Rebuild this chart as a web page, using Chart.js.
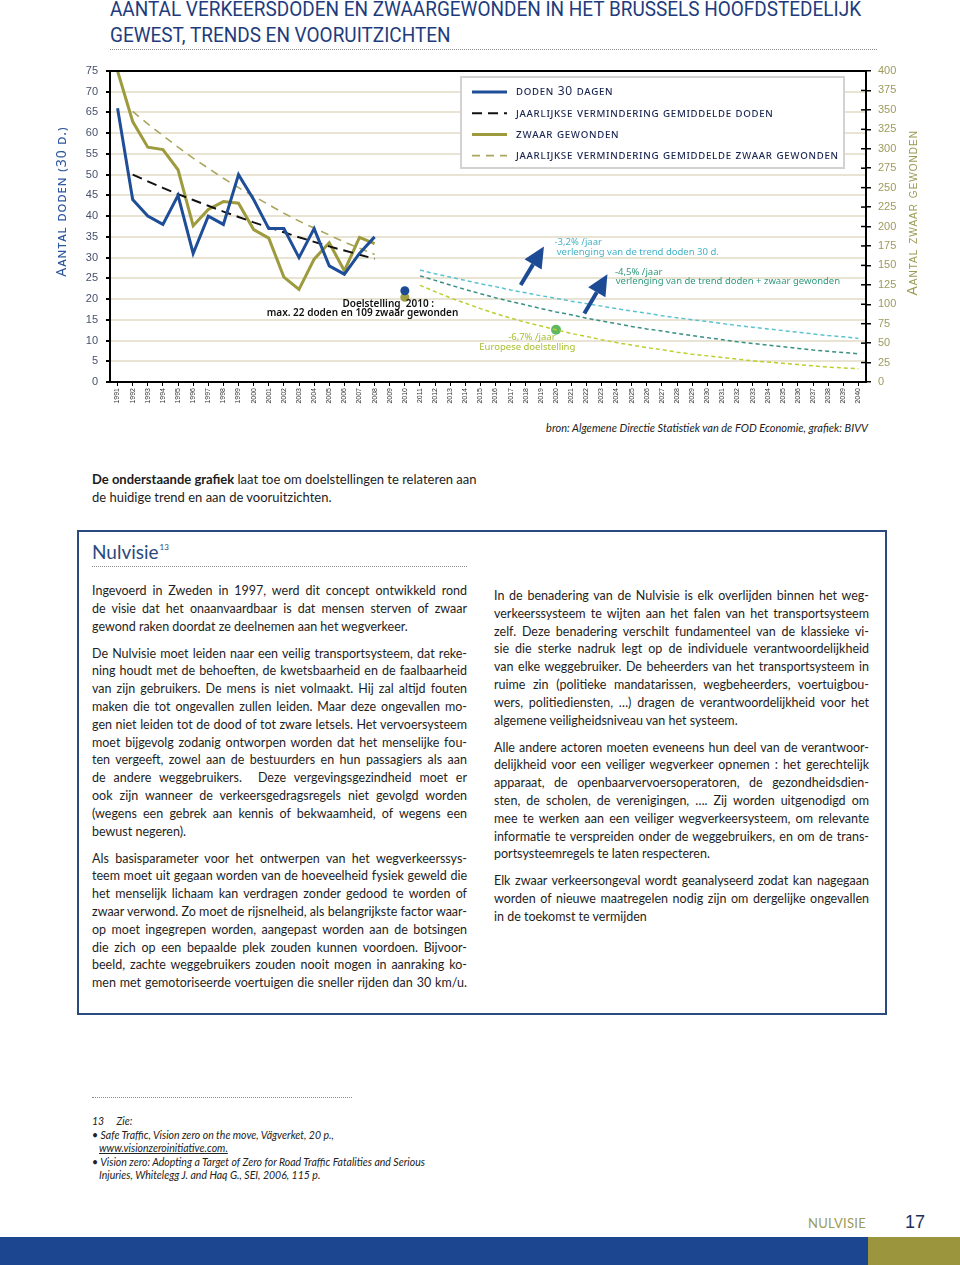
<!DOCTYPE html>
<html>
<head>
<meta charset="utf-8">
<script src="https://cdn.jsdelivr.net/npm/chart.js@4.4.0/dist/chart.umd.min.js"></script>
<style>
  body { margin: 0; width: 960px; height: 1265px; position: relative; background: #fff; overflow: hidden; font-family: Lato, "Noto Sans", sans-serif; color: #1c1c1c; }
  .title { position: absolute; left: 110px; top: -3px; font-family: "Liberation Sans Narrow", "Roboto", sans-serif; font-size: 20px; line-height: 25.5px; color: #1e3c7c; white-space: nowrap; transform: scaleX(0.948); transform-origin: 0 0; }
  .dots { position: absolute; height: 0; border-top: 1.5px dotted #8a8a8a; }
  #chartBox { position: absolute; left: 0; top: 55px; width: 960px; height: 365px; }
  .src { position: absolute; right: 92px; top: 421px; font-style: italic; font-size: 11px; color: #222; }
  .intro { position: absolute; left: 92px; top: 471px; font-size: 13px; line-height: 17.5px; }
  .box { position: absolute; left: 77px; top: 530px; width: 806px; height: 481px; border: 2px solid #2a4a80; }
  .head { position: absolute; left: 92px; top: 540px; font-size: 19px; color: #2b4a7c; }
  .head sup { font-size: 8px; vertical-align: 9px; margin-left: 1px; }
  .col { position: absolute; width: 375px; font-size: 12.5px; line-height: 17.8px; color: #1e1e1e; }
  .col p { margin: 0 0 9.2px 0; }
  .col span { display: block; text-align: justify; text-align-last: justify; }
  .col span.l { text-align-last: left; }
  .fn { position: absolute; left: 92px; top: 1115px; font-style: italic; font-size: 10.5px; line-height: 13.5px; color: #222; }
  .fn .in { padding-left: 7px; }
  .foot1 { position: absolute; left: 808px; top: 1215px; font-size: 13px; color: #9a9a5a; letter-spacing: 0.3px; }
  .foot2 { position: absolute; left: 905px; top: 1212px; font-size: 18px; color: #1e2f5a; font-family: "Liberation Sans", sans-serif; }
  .bar1 { position: absolute; left: 0; top: 1237px; width: 868px; height: 28px; background: #1d4690; }
  .bar2 { position: absolute; left: 868px; top: 1237px; width: 92px; height: 28px; background: #9b963e; }
</style>
</head>
<body>
<div class="title">AANTAL VERKEERSDODEN EN ZWAARGEWONDEN IN HET BRUSSELS HOOFDSTEDELIJK<br>GEWEST, TRENDS EN VOORUITZICHTEN</div>
<div class="dots" style="left:110px; top:49px; width:767px;"></div>

<div id="chartBox"><canvas id="trendChart"></canvas></div>

<div class="src">bron: Algemene Directie Statistiek van de FOD Economie, grafiek: BIVV</div>

<div class="intro"><b>De onderstaande grafiek</b> laat toe om doelstellingen te relateren aan<br>de huidige trend en aan de vooruitzichten.</div>

<div class="box"></div>
<div class="head">Nulvisie<sup>13</sup></div>
<div class="dots" style="left:92px; top:566px; width:375px;"></div>

<div class="col" style="left:92px; top:582px;">
  <p>
    <span>Ingevoerd in Zweden in 1997, werd dit concept ontwikkeld rond</span>
    <span>de visie dat het onaanvaardbaar is dat mensen sterven of zwaar</span>
    <span class="l">gewond raken doordat ze deelnemen aan het wegverkeer.</span>
  </p>
  <p>
    <span>De Nulvisie moet leiden naar een veilig transportsysteem, dat reke-</span>
    <span>ning houdt met de behoeften, de kwetsbaarheid en de faalbaarheid</span>
    <span>van zijn gebruikers. De mens is niet volmaakt. Hij zal altijd fouten</span>
    <span>maken die tot ongevallen zullen leiden. Maar deze ongevallen mo-</span>
    <span>gen niet leiden tot de dood of tot zware letsels. Het vervoersysteem</span>
    <span>moet bijgevolg zodanig ontworpen worden dat het menselijke fou-</span>
    <span>ten vergeeft, zowel aan de bestuurders en hun passagiers als aan</span>
    <span>de andere weggebruikers.&nbsp; Deze vergevingsgezindheid moet er</span>
    <span>ook zijn wanneer de verkeersgedragsregels niet gevolgd worden</span>
    <span>(wegens een gebrek aan kennis of bekwaamheid, of wegens een</span>
    <span class="l">bewust negeren).</span>
  </p>
  <p>
    <span>Als basisparameter voor het ontwerpen van het wegverkeerssys-</span>
    <span>teem moet uit gegaan worden van de hoeveelheid fysiek geweld die</span>
    <span>het menselijk lichaam kan verdragen zonder gedood te worden of</span>
    <span>zwaar verwond. Zo moet de rijsnelheid, als belangrijkste factor waar-</span>
    <span>op moet ingegrepen worden, aangepast worden aan de botsingen</span>
    <span>die zich op een bepaalde plek zouden kunnen voordoen. Bijvoor-</span>
    <span>beeld, zachte weggebruikers zouden nooit mogen in aanraking ko-</span>
    <span>men met gemotoriseerde voertuigen die sneller rijden dan 30 km/u.</span>
  </p>
</div>

<div class="col" style="left:494px; top:587px;">
  <p>
    <span>In de benadering van de Nulvisie is elk overlijden binnen het weg-</span>
    <span>verkeerssysteem te wijten aan het falen van het transportsysteem</span>
    <span>zelf. Deze benadering verschilt fundamenteel van de klassieke vi-</span>
    <span>sie die sterke nadruk legt op de individuele verantwoordelijkheid</span>
    <span>van elke weggebruiker. De beheerders van het transportsysteem in</span>
    <span>ruime zin (politieke mandatarissen, wegbeheerders, voertuigbou-</span>
    <span>wers, politiediensten, …) dragen de verantwoordelijkheid voor het</span>
    <span class="l">algemene veiligheidsniveau van het systeem.</span>
  </p>
  <p>
    <span>Alle andere actoren moeten eveneens hun deel van de verantwoor-</span>
    <span>delijkheid voor een veiliger wegverkeer opnemen : het gerechtelijk</span>
    <span>apparaat, de openbaarvervoersoperatoren, de gezondheidsdien-</span>
    <span>sten, de scholen, de verenigingen, …. Zij worden uitgenodigd om</span>
    <span>mee te werken aan een veiliger wegverkeersysteem, om relevante</span>
    <span>informatie te verspreiden onder de weggebruikers, en om de trans-</span>
    <span class="l">portsysteemregels te laten respecteren.</span>
  </p>
  <p>
    <span>Elk zwaar verkeersongeval wordt geanalyseerd zodat kan nagegaan</span>
    <span>worden of nieuwe maatregelen nodig zijn om dergelijke ongevallen</span>
    <span class="l">in de toekomst te vermijden</span>
  </p>
</div>

<div class="dots" style="left:92px; top:1097px; width:260px;"></div>
<div class="fn">
  13&nbsp;&nbsp;&nbsp;&nbsp; Zie:<br>
  • Safe Traffic, Vision zero on the move, Vägverket, 20 p.,<br>
  <span class="in"><u>www.visionzeroinitiative.com.</u></span><br>
  • Vision zero: Adopting a Target of Zero for Road Traffic Fatalities and Serious<br>
  <span class="in">Injuries, Whitelegg J. and Haq G., SEI, 2006, 115 p.</span>
</div>

<div class="foot1">NULVISIE</div>
<div class="foot2">17</div>
<div class="bar1"></div>
<div class="bar2"></div>

<script>
// Years on the x axis
const years = [
    '1991', '1992', '1993', '1994', '1995', '1996', '1997', '1998', '1999', '2000',
    '2001', '2002', '2003', '2004', '2005', '2006', '2007', '2008', '2009', '2010',
    '2011', '2012', '2013', '2014', '2015', '2016', '2017', '2018', '2019', '2020',
    '2021', '2022', '2023', '2024', '2025', '2026', '2027', '2028', '2029', '2030',
    '2031', '2032', '2033', '2034', '2035', '2036', '2037', '2038', '2039', '2040'
];

// Observed 1991-2008
const doden = [66, 44, 40, 38, 45, 31, 40, 38, 50, 44, 37, 37, 30, 37, 28, 26, 31, 35];
const zwaarGewonden = [400, 335, 302, 299, 273, 201, 222, 232, 230, 196, 185, 135, 119, 158, 179, 143, 186, 178];

// Average yearly reduction, 1992-2008
const trendDoden = [50, 48.4, 46.8, 45.3, 43.9, 42.5, 41.1, 39.8, 38.5, 37.3, 36.1, 34.9, 33.8, 32.7, 31.7, 30.7, 29.7];
const trendZwaar = [348, 332, 317, 302, 288, 275, 262, 250, 239, 228, 217, 207, 198, 189, 180, 172, 164];

// Projections 2011-2040 (left axis)
const proj32 = [27.0, 26.1, 25.3, 24.5, 23.7, 23.0, 22.2, 21.5, 20.8, 20.2, 19.5, 18.9, 18.3, 17.7, 17.1,
                16.6, 16.0, 15.5, 15.0, 14.6, 14.1, 13.6, 13.2, 12.8, 12.4, 12.0, 11.6, 11.2, 10.9, 10.5];
const proj45 = [25.6, 24.5, 23.4, 22.3, 21.3, 20.3, 19.4, 18.6, 17.7, 16.9, 16.2, 15.4, 14.7, 14.1, 13.4,
                12.8, 12.3, 11.7, 11.2, 10.7, 10.2, 9.7, 9.3, 8.9, 8.5, 8.1, 7.7, 7.4, 7.1, 6.8];
const proj67 = [23.3, 21.8, 20.3, 19.0, 17.7, 16.5, 15.4, 14.4, 13.5, 12.6, 11.7, 11.0, 10.2, 9.5, 8.9,
                8.3, 7.8, 7.2, 6.7, 6.3, 5.9, 5.5, 5.1, 4.8, 4.5, 4.2, 3.9, 3.6, 3.4, 3.2];

// Targets
const doelDoden2010 = 22;
const doelZwaar2010 = 109;
const euDoel2020 = 12.6;

// put a series on the full year axis
function place(startYear, values) {
    const out = years.map(() => null);
    const start = years.indexOf(String(startYear));
    values.forEach((v, i) => { out[start + i] = v; });
    return out;
}

const fontAxis = "'Liberation Sans', Arial, sans-serif";
const fontNote = "'Noto Sans', sans-serif";

function drawArrow(ctx, x0, y0, x1, y1) {
    const ang = Math.atan2(y1 - y0, x1 - x0);
    const headLen = 21, headW = 10;
    const bx = x1 - headLen * Math.cos(ang), by = y1 - headLen * Math.sin(ang);
    ctx.strokeStyle = '#1d4a94';
    ctx.fillStyle = '#1d4a94';
    ctx.lineWidth = 4;
    ctx.setLineDash([]);
    ctx.beginPath();
    ctx.moveTo(x0, y0);
    ctx.lineTo(bx, by);
    ctx.stroke();
    ctx.beginPath();
    ctx.moveTo(x1, y1);
    ctx.lineTo(bx + headW * Math.sin(ang), by - headW * Math.cos(ang));
    ctx.lineTo(bx - headW * Math.sin(ang), by + headW * Math.cos(ang));
    ctx.closePath();
    ctx.fill();
}

const overlay = {
    id: 'overlay',
    afterDatasetsDraw(chart) {
        const { ctx, chartArea: a, scales } = chart;
        const x = scales.x, y = scales.y, y2 = scales.y2;
        ctx.save();

        // frame top + inner ticks of the right axis
        ctx.strokeStyle = '#000';
        ctx.lineWidth = 2;
        ctx.beginPath();
        ctx.moveTo(a.left - 1, a.top);
        ctx.lineTo(a.right + 1, a.top);
        ctx.stroke();
        ctx.lineWidth = 1.5;
        y2.ticks.forEach(t => {
            const py = y2.getPixelForValue(t.value);
            ctx.beginPath();
            ctx.moveTo(a.right - 5, py);
            ctx.lineTo(a.right, py);
            ctx.stroke();
        });

        // legend box
        const lx = a.left + 351, ly = a.top + 6, lw = 383, lh = 91;
        ctx.fillStyle = '#fff';
        ctx.fillRect(lx, ly, lw, lh);
        ctx.strokeStyle = '#d2d2d2';
        ctx.lineWidth = 2;
        ctx.strokeRect(lx, ly, lw, lh);
        ctx.font = "small-caps 12px " + fontNote;
        ctx.letterSpacing = '0.7px';
        ctx.textBaseline = 'middle';
        ctx.textAlign = 'left';
        chart.data.datasets.slice(0, 4).forEach((ds, i) => {
            const ry = ly + 15 + i * 21.2;
            ctx.strokeStyle = ds.borderColor;
            ctx.lineWidth = ds.borderWidth;
            ctx.setLineDash(ds.borderDash || []);
            ctx.beginPath();
            ctx.moveTo(lx + 11, ry);
            ctx.lineTo(lx + 46, ry);
            ctx.stroke();
            ctx.setLineDash([]);
            ctx.fillStyle = '#1a2550';
            ctx.fillText(ds.label, lx + 55, ry);
        });
        ctx.letterSpacing = '0px';

        // annotations
        const px = i => x.getPixelForValue(i);
        const py = v => y.getPixelForValue(v);
        ctx.font = "9.5px " + fontNote;
        ctx.fillStyle = '#45b2c6';
        ctx.fillText('-3,2% /jaar', px(28.9), py(33.6));
        ctx.fillText('verlenging van de trend doden 30 d.', px(29.05), py(31.3));
        ctx.fillStyle = '#2f9a7c';
        ctx.fillText('-4,5% /jaar', px(32.9), py(26.5));
        ctx.fillText('verlenging van de trend doden + zwaar gewonden', px(32.95), py(24.3));
        ctx.fillStyle = '#a6bf2e';
        ctx.textAlign = 'center';
        ctx.fillText('-6,7% /jaar', px(27.4), py(10.7));
        ctx.fillText('Europese doelstelling', px(27.1), py(8.3));
        ctx.fillStyle = '#111';
        ctx.font = "600 10px " + fontNote;
        ctx.fillText('Doelstelling  2010 :', px(17.9), py(18.8));
        ctx.fillText('max. 22 doden en 109 zwaar gewonden', px(16.2), py(16.6));

        // arrows
        drawArrow(ctx, px(26.66), py(23.4), px(28.2), py(32.7));
        drawArrow(ctx, px(30.87), py(16.5), px(32.4), py(26.0));

        // axis titles
        ctx.letterSpacing = '1px';
        ctx.textAlign = 'center';
        ctx.save();
        ctx.translate(a.left - 48, py(43.5));
        ctx.rotate(-Math.PI / 2);
        ctx.font = "small-caps 14px " + fontNote;
        ctx.fillStyle = '#2d56a0';
        ctx.fillText('Aantal doden (30 d.)', 0, 0);
        ctx.restore();
        ctx.save();
        ctx.translate(a.right + 47, py(40.8));
        ctx.rotate(-Math.PI / 2);
        ctx.font = "small-caps 14px " + fontAxis;
        ctx.fillStyle = '#9b9a55';
        ctx.fillText('Aantal zwaar gewonden', 0, 0);
        ctx.restore();

        ctx.restore();
    }
};

const ctx = document.getElementById('trendChart').getContext('2d');
new Chart(ctx, {
    type: 'line',
    data: {
        labels: years,
        datasets: [
            {
                label: 'doden 30 dagen',
                data: place(1991, doden),
                borderColor: '#1f4e99',
                borderWidth: 3,
                yAxisID: 'y'
            },
            {
                label: 'jaarlijkse vermindering gemiddelde doden',
                data: place(1992, trendDoden),
                borderColor: '#111111',
                borderWidth: 2,
                borderDash: [10, 6],
                yAxisID: 'y'
            },
            {
                label: 'zwaar gewonden',
                data: place(1991, zwaarGewonden),
                borderColor: '#9d9b3d',
                borderWidth: 3,
                yAxisID: 'y2'
            },
            {
                label: 'jaarlijkse vermindering gemiddelde zwaar gewonden',
                data: place(1992, trendZwaar),
                borderColor: '#aaa65c',
                borderWidth: 1.6,
                borderDash: [8, 6],
                yAxisID: 'y2'
            },
            {
                label: '-3,2% /jaar',
                data: place(2011, proj32),
                borderColor: '#5cc2cf',
                borderWidth: 1.5,
                borderDash: [4, 3],
                yAxisID: 'y'
            },
            {
                label: '-4,5% /jaar',
                data: place(2011, proj45),
                borderColor: '#3a8f85',
                borderWidth: 1.5,
                borderDash: [4, 3],
                yAxisID: 'y'
            },
            {
                label: '-6,7% /jaar',
                data: place(2011, proj67),
                borderColor: '#bccf2e',
                borderWidth: 1.5,
                borderDash: [4, 3],
                yAxisID: 'y'
            },
            {
                label: 'Doelstelling doden 2010',
                data: place(2010, [doelDoden2010]),
                showLine: false,
                pointRadius: 4.5,
                pointBackgroundColor: '#1d4a94',
                pointBorderWidth: 0,
                yAxisID: 'y'
            },
            {
                label: 'Doelstelling zwaar gewonden 2010',
                data: place(2010, [doelZwaar2010]),
                showLine: false,
                pointRadius: 4.5,
                pointBackgroundColor: '#a39f45',
                pointBorderWidth: 0,
                yAxisID: 'y2'
            },
            {
                label: 'Europese doelstelling 2020',
                data: place(2020, [euDoel2020]),
                showLine: false,
                pointRadius: 5,
                pointBackgroundColor: '#5db860',
                pointBorderWidth: 0,
                yAxisID: 'y'
            }
        ]
    },
    options: {
        responsive: true,
        maintainAspectRatio: false,
        animation: false,
        layout: { padding: { top: 16, left: 0, right: 0, bottom: 0 } },
        elements: {
            point: { radius: 0, hoverRadius: 0 },
            line: { tension: 0, fill: false }
        },
        plugins: {
            legend: { display: false },
            tooltip: { enabled: false }
        },
        scales: {
            x: {
                offset: true,
                afterFit: s => { s.height = 38; },
                grid: { drawOnChartArea: false, offset: false, tickLength: 4, tickColor: '#000', lineWidth: 1 },
                border: { color: '#000', width: 2 },
                ticks: {
                    autoSkip: false, maxRotation: 90, minRotation: 90, padding: 2,
                    color: '#333', font: { family: fontAxis, size: 7 }
                }
            },
            y: {
                position: 'left',
                min: 0, max: 75,
                afterFit: s => { s.width = 110; },
                grid: { color: '#e8e3d2', lineWidth: 2, tickColor: '#000', tickLength: 4 },
                border: { color: '#000', width: 2 },
                ticks: { stepSize: 5, padding: 8, color: '#46516c', font: { family: fontAxis, size: 11 } }
            },
            y2: {
                position: 'right',
                min: 0, max: 400,
                afterFit: s => { s.width = 94; },
                grid: { drawOnChartArea: false, tickColor: '#000', tickLength: 5, lineWidth: 1.5 },
                border: { color: '#000', width: 2 },
                ticks: { stepSize: 25, padding: 7, color: '#9d9b5c', font: { family: fontAxis, size: 11 } }
            }
        }
    },
    plugins: [overlay]
});
</script>
</body>
</html>
